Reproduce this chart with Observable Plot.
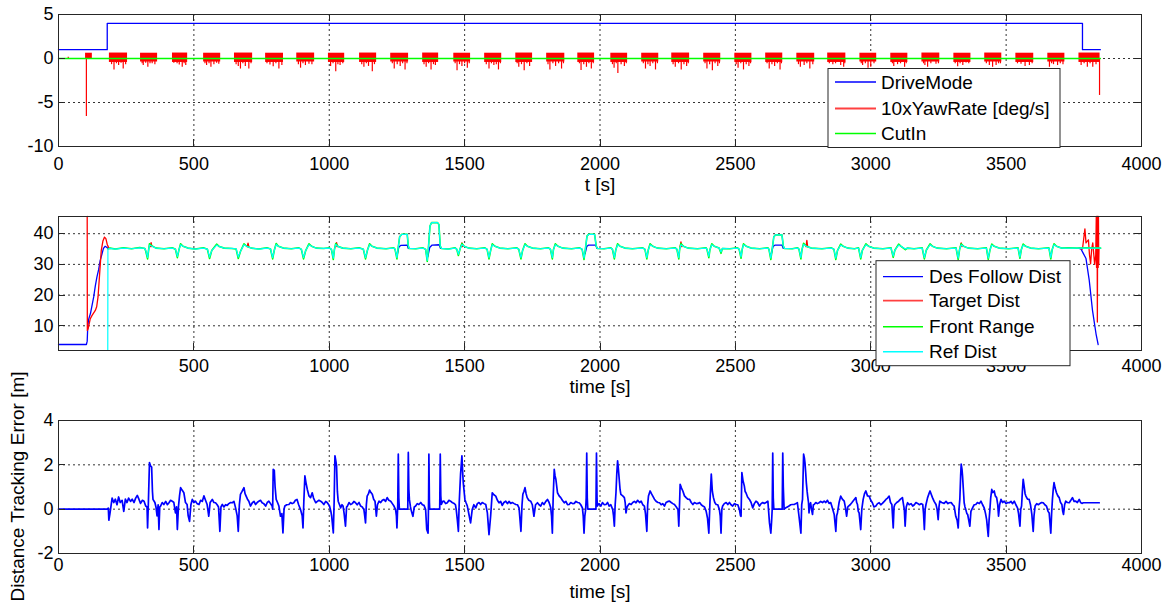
<!DOCTYPE html>
<html><head><meta charset="utf-8">
<script src="https://cdn.jsdelivr.net/npm/d3@7"></script>
<script src="https://cdn.jsdelivr.net/npm/@observablehq/plot@0.6"></script>
<style>
body{margin:0;background:#fff;}
#chart{position:relative;width:1174px;height:608px;overflow:hidden;background:#fff;}
#chart svg{position:absolute;left:0;overflow:visible;}
</style></head><body><div id="chart"></div>
<script>
// ---------------- DATA ----------------
const xTicks = [0,500,1000,1500,2000,2500,3000,3500,4000];
const xTicksMid = [500,1000,1500,2000,2500,3000,3500,4000];

// Panel 1
const driveMode = [[0,1],[180,1],[180,4],[3782,4],[3782,1],[3848,1]];
const cutIn = [[0,0],[3848,0]];
const yawStart = [100,188,303,421,536,650,765,880,997,1112,1227,1345,1460,1574,1689,1803,1918,2040,2154,2265,2383,2498,2612,2727,2841,2960,3074,3189,3307,3421,3536,3654,3769];
const yawEnd   = [125,255,366,477,599,717,831,946,1057,1175,1293,1404,1522,1637,1751,1870,1980,2102,2217,2331,2446,2561,2675,2793,2908,3022,3137,3255,3370,3484,3602,3717,3847];
const yawHigh  = [0.6,0.62,0.6,0.62,0.6,0.62,0.6,0.62,0.6,0.62,0.6,0.62,0.6,0.6,0.62,0.6,0.62,0.6,0.6,0.62,0.6,0.6,0.62,0.6,0.62,0.6,0.6,0.62,0.6,0.62,0.6,0.6,0.62];
const yawLow   = [-0.1,-0.45,-0.4,-0.45,-0.4,-0.45,-0.45,-0.4,-0.45,-0.45,-0.4,-0.45,-0.4,-0.45,-0.45,-0.4,-0.45,-0.45,-0.4,-0.45,-0.4,-0.45,-0.45,-0.4,-0.45,-0.4,-0.45,-0.4,-0.45,-0.4,-0.45,-0.4,-0.45];
const yawSpikes = [[36,0.15],[103,-6.6],
 [196,-0.7],[205,-1.3],[214,-0.6],[222,-0.8],[231,-0.55],[239,-1.2],[248,-0.7],
 [309,-0.6],[313,-0.8],[322,-0.55],[330,-1.0],[338,-0.6],[346,-0.6],[356,-0.7],
 [426,-0.55],[438,-0.6],[446,-0.75],[457,-1.0],[464,-0.6],[470,-0.8],
 [541,-0.6],[547,-0.8],[556,-0.6],[563,-1.0],[574,-0.7],[584,-0.55],[592,-0.65],
 [656,-0.7],[664,-0.9],[672,-1.2],[681,-0.6],[690,-0.9],[703,-1.2],[711,-0.6],
 [770,-0.6],[781,-0.75],[793,-0.95],[803,-0.6],[814,-1.2],[825,-0.8],
 [886,-0.7],[894,-1.1],[903,-0.6],[912,-0.8],[925,-0.65],[936,-0.7],
 [1005,-0.9],[1014,-0.6],[1024,-1.5],[1032,-0.7],[1040,-0.8],[1050,-0.6],
 [1120,-0.7],[1128,-1.0],[1137,-0.6],[1145,-0.9],[1159,-1.5],[1167,-0.7],
 [1233,-0.6],[1240,-1.2],[1251,-0.7],[1262,-0.9],[1271,-0.6],[1280,-1.3],[1287,-0.6],
 [1350,-0.7],[1358,-1.0],[1367,-0.6],[1376,-1.3],[1385,-0.7],[1392,-0.8],
 [1465,-0.6],[1472,-1.4],[1481,-0.7],[1490,-0.9],[1500,-0.6],[1510,-1.1],[1517,-0.6],
 [1580,-0.7],[1590,-1.2],[1599,-0.6],[1608,-0.8],[1617,-0.7],[1625,-1.3],[1632,-0.6],
 [1694,-0.6],[1700,-1.0],[1710,-0.7],[1720,-1.4],[1730,-0.6],[1740,-0.9],
 [1808,-0.7],[1815,-1.3],[1826,-0.6],[1836,-0.9],[1847,-0.6],[1858,-1.2],[1865,-0.6],
 [1924,-0.6],[1930,-1.35],[1940,-0.7],[1950,-1.0],[1959,-0.6],[1968,-1.2],[1975,-0.6],
 [2046,-0.7],[2052,-1.1],[2060,-0.6],[2066,-1.7],[2078,-0.7],[2090,-0.9],[2097,-0.6],
 [2160,-0.6],[2168,-1.2],[2177,-0.7],[2185,-0.9],[2195,-0.6],[2205,-1.3],[2212,-0.6],
 [2270,-0.7],[2278,-1.0],[2290,-0.6],[2300,-1.3],[2310,-0.7],[2320,-0.9],[2326,-0.6],
 [2388,-0.6],[2395,-1.2],[2405,-0.7],[2415,-1.4],[2425,-0.6],[2435,-0.9],[2441,-0.6],
 [2503,-0.7],[2510,-1.1],[2520,-0.6],[2530,-1.3],[2540,-0.7],[2550,-0.9],[2556,-0.6],
 [2617,-0.6],[2625,-1.2],[2635,-0.7],[2645,-0.9],[2655,-0.6],[2665,-1.3],[2670,-0.6],
 [2733,-0.7],[2740,-1.0],[2754,-0.8],[2764,-0.6],[2775,-1.2],[2786,-0.7],
 [2847,-0.6],[2860,-0.7],[2870,-0.6],[2889,-0.8],[2900,-1.0],[2904,-0.6],
 [2965,-0.6],[2970,-0.8],[2980,-0.6],[2990,-1.1],[3000,-1.0],[3012,-0.6],
 [3080,-0.6],[3085,-0.9],[3099,-0.7],[3110,-0.6],[3125,-1.0],[3131,-0.6],
 [3195,-0.6],[3200,-0.8],[3210,-1.0],[3222,-0.6],[3241,-0.65],[3250,-0.6],
 [3312,-0.6],[3321,-0.95],[3330,-0.6],[3340,-0.8],[3352,-0.5],[3362,-0.6],
 [3427,-0.6],[3438,-0.8],[3450,-1.0],[3463,-0.8],[3472,-0.6],[3479,-0.6],
 [3542,-0.6],[3555,-0.65],[3570,-0.9],[3586,-0.8],[3596,-0.6],
 [3660,-1.0],[3668,-0.6],[3675,-0.7],[3690,-0.8],[3700,-0.6],[3710,-0.7],
 [3777,-0.8],[3788,-0.6],[3800,-1.0],[3810,-0.6],[3820,-1.0],[3832,-0.7],[3845,-4.2]];

// Panel 2
const desFollow = [[0,3.9],[103,3.9],[106,5],[108,9.6],[111,12],[118,14],[130,19.4],[136,23],[142,25.9],[148,28.2],[154,31.3],[160,33.2],[166,35.2],[172,35.9],[178,35.6],[183,35.2],[183,NaN],
 [1252,33.5],[1257,35.6],[1264,36.2],[1288,36.3],[1292,35.2],[1292,NaN],
 [1364,32.5],[1371,35.5],[1380,36.3],[1406,36.4],[1411,35.2],[1411,NaN],
 [1945,33.5],[1951,35.8],[1958,36.3],[1984,36.3],[1989,35.2],[1989,NaN],
 [2633,33.5],[2639,35.8],[2647,36.3],[2672,36.3],[2677,35.2],[2677,NaN],
 [3768,35.2],[3776,35.1],[3785,33.6],[3795,31.9],[3807,24.8],[3819,15],[3832,7.4],[3840,3.9]];
const targetDist = [[106,45.6],[106.5,8.5],[110,9.2],[117,12.2],[124,13.4],[136,15],[141,16.2],[146,19.4],[152,27],[158,34.6],[164,37.6],[170,38.9],[175,38.4],[180,36.5],[186,35.3],[190,35.2],[190,NaN],
 [339,35.8],[342,37.1],[345,35.8],[345,NaN],[697,35.8],[700,36.9],[703,35.8],[703,NaN],
 [1024,35.8],[1027,37.1],[1030,35.8],[1030,NaN],[1487,35.8],[1490,37.0],[1493,35.8],[1493,NaN],
 [2296,35.8],[2299,37.3],[2302,35.8],[2302,NaN],[2761,35.8],[2764,37.8],[2767,35.8],[2767,NaN],
 [3331,35.8],[3334,37.0],[3337,35.8],[3337,NaN],
 [3770,35.3],[3782,35.0],[3791,41.6],[3795,37],[3799,37.5],[3804,38],[3808,33],[3812,30.2],[3816,35],[3820,37],[3824,33],[3827,30],[3831,33],
 [3833,45.6],[3834,29],[3836,45.6],[3837,11.2],[3838,45.6],[3840,29],[3841,45.6],[3842,30],[3843,35]];
const frontRange = [[183,35.0],[190,35.3],[210,35.0],[240,35.4],[270,35.1],[300,35.5],[319,35.2],
 [322,34.4],[329,31.8],[333,34.8],[336,36.7],[344,36.1],[360,35.3],[390,35.1],[420,35.4],
 [432,34.9],[439,32.2],[445,34.8],[451,36.7],[460,35.9],[478,35.3],[505,35.0],[535,35.4],
 [550,34.9],[558,31.9],[566,34.5],[584,36.6],[594,35.8],[612,35.3],[640,35.2],
 [656,35.0],[664,31.9],[672,34.2],[685,36.7],[695,35.9],[712,35.3],[740,35.0],[770,35.4],
 [783,35.0],[791,31.8],[797,34.6],[804,36.8],[812,35.9],[830,35.3],[860,35.1],[888,35.4],
 [897,34.9],[905,31.8],[913,34.5],[925,36.7],[935,35.9],[952,35.3],[980,35.2],[1000,35.4],
 [1008,34.9],[1015,31.6],[1019,34.8],[1024,36.8],[1033,35.8],[1050,35.3],[1080,35.1],[1110,35.4],
 [1126,34.9],[1134,31.8],[1141,34.6],[1149,36.7],[1158,35.9],[1176,35.3],[1210,35.1],[1238,35.4],
 [1243,34.9],[1250,31.8],[1254,35.0],[1260,39.0],[1268,39.8],[1288,39.8],[1292,36.0],[1295,35.2],[1320,35.1],[1345,35.4],
 [1356,34.9],[1362,31.0],[1366,35.0],[1372,42.5],[1378,43.6],[1400,43.6],[1405,43.0],[1410,36.0],[1414,35.2],[1440,35.0],[1465,35.4],
 [1471,34.9],[1477,32.9],[1483,35.0],[1490,36.8],[1498,35.9],[1515,35.3],[1545,35.1],[1575,35.4],
 [1583,34.9],[1590,31.8],[1596,34.5],[1602,36.7],[1612,35.9],[1630,35.3],[1660,35.1],[1693,35.4],
 [1700,34.9],[1708,31.8],[1714,34.5],[1723,36.7],[1732,35.9],[1750,35.3],[1780,35.1],[1810,35.4],
 [1817,34.9],[1824,31.8],[1828,34.8],[1835,36.7],[1845,35.9],[1862,35.3],[1895,35.1],[1925,35.4],
 [1934,34.9],[1941,31.6],[1946,35.0],[1952,39.2],[1958,39.8],[1980,39.8],[1986,36.0],[1990,35.2],[2015,35.1],[2040,35.4],
 [2046,34.9],[2053,31.8],[2058,34.6],[2065,36.7],[2074,35.9],[2092,35.3],[2120,35.1],[2158,35.4],
 [2166,34.9],[2173,31.8],[2178,34.6],[2185,36.7],[2195,35.9],[2212,35.3],[2245,35.1],[2278,35.4],
 [2284,34.9],[2291,31.8],[2294,34.8],[2299,36.8],[2308,35.9],[2325,35.3],[2360,35.1],[2392,35.4],
 [2395,34.9],[2402,32.2],[2406,34.8],[2413,36.7],[2422,35.9],[2440,35.3],[2447,33.6],[2452,35.2],[2480,35.1],[2508,35.4],
 [2514,34.9],[2521,32.0],[2525,34.8],[2530,36.7],[2540,35.9],[2558,35.3],[2590,35.1],[2620,35.4],
 [2624,34.9],[2631,31.6],[2636,35.0],[2642,39.0],[2648,39.6],[2672,39.6],[2677,36.0],[2681,35.2],[2710,35.1],[2730,35.4],
 [2735,34.9],[2742,31.8],[2746,34.8],[2752,36.9],[2762,35.9],[2780,35.3],[2820,35.1],[2855,35.4],
 [2864,34.9],[2871,31.6],[2877,34.5],[2889,36.6],[2898,35.9],[2915,35.3],[2940,35.1],[2955,35.4],
 [2956,34.9],[2963,31.8],[2969,34.6],[2982,36.7],[2992,35.9],[3010,35.3],[3045,35.1],[3075,35.4],
 [3076,34.9],[3083,32.3],[3089,34.6],[3103,36.6],[3112,35.9],[3128,34.8],[3135,35.3],[3160,35.1],[3190,35.4],
 [3191,34.9],[3198,31.8],[3205,34.6],[3219,36.7],[3228,35.9],[3245,35.3],[3280,35.1],[3315,35.4],
 [3316,34.9],[3323,31.6],[3328,34.8],[3334,36.7],[3343,35.9],[3360,35.3],[3395,35.1],[3427,35.4],
 [3428,34.9],[3434,31.6],[3440,34.6],[3447,36.6],[3456,35.9],[3474,35.3],[3510,35.1],[3544,35.4],
 [3545,34.9],[3551,32.0],[3556,34.8],[3563,36.6],[3572,35.9],[3590,35.3],[3620,35.1],[3658,35.4],
 [3659,34.9],[3665,31.8],[3670,34.8],[3677,36.7],[3686,35.9],[3704,35.3],[3730,35.4],[3760,35.3],[3800,35.4],[3849,35.3]];
const refDist = [[182,2],[182.5,35.0],[190,35.2],[210,35.0],[240,35.3],[270,35.1],[300,35.4],[319,35.2],
 [322,34.6],[329,32.3],[333,34.8],[336,36.3],[344,36.0],[360,35.3],[390,35.1],[420,35.3],
 [432,35.0],[439,32.6],[445,34.8],[451,36.4],[460,35.9],[478,35.3],[505,35.0],[535,35.3],
 [550,35.0],[558,32.4],[566,34.5],[584,36.3],[594,35.8],[612,35.3],[640,35.2],
 [656,35.1],[664,32.4],[672,34.2],[685,36.4],[695,35.9],[712,35.3],[740,35.0],[770,35.3],
 [783,35.1],[791,32.2],[797,34.6],[804,36.5],[812,35.9],[830,35.3],[860,35.1],[888,35.3],
 [897,35.0],[905,32.2],[913,34.5],[925,36.4],[935,35.9],[952,35.3],[980,35.2],[1000,35.3],
 [1008,35.0],[1015,32.0],[1019,34.8],[1024,36.5],[1033,35.8],[1050,35.3],[1080,35.1],[1110,35.3],
 [1126,35.0],[1134,32.2],[1141,34.6],[1149,36.4],[1158,35.9],[1176,35.3],[1210,35.1],[1238,35.3],
 [1243,35.0],[1250,32.2],[1254,35.0],[1260,39.0],[1268,39.8],[1288,39.8],[1292,36.0],[1295,35.2],[1320,35.1],[1345,35.3],
 [1356,35.0],[1362,31.3],[1366,35.0],[1372,42.5],[1378,43.6],[1400,43.6],[1405,43.0],[1410,36.0],[1414,35.2],[1440,35.0],[1465,35.3],
 [1471,35.0],[1477,33.3],[1483,35.0],[1490,36.5],[1498,35.9],[1515,35.3],[1545,35.1],[1575,35.3],
 [1583,35.0],[1590,32.2],[1596,34.5],[1602,36.4],[1612,35.9],[1630,35.3],[1660,35.1],[1693,35.3],
 [1700,35.0],[1708,32.2],[1714,34.5],[1723,36.4],[1732,35.9],[1750,35.3],[1780,35.1],[1810,35.3],
 [1817,35.0],[1824,32.2],[1828,34.8],[1835,36.4],[1845,35.9],[1862,35.3],[1895,35.1],[1925,35.3],
 [1934,35.0],[1941,32.0],[1946,35.0],[1952,39.2],[1958,39.8],[1980,39.8],[1986,36.0],[1990,35.2],[2015,35.1],[2040,35.3],
 [2046,35.0],[2053,32.2],[2058,34.6],[2065,36.4],[2074,35.9],[2092,35.3],[2120,35.1],[2158,35.3],
 [2166,35.0],[2173,32.2],[2178,34.6],[2185,36.4],[2195,35.9],[2212,35.3],[2245,35.1],[2278,35.3],
 [2284,35.0],[2291,32.2],[2294,34.8],[2299,36.4],[2308,35.9],[2325,35.3],[2360,35.1],[2392,35.3],
 [2395,35.0],[2402,32.6],[2406,34.8],[2413,36.4],[2422,35.9],[2440,35.3],[2447,34.0],[2452,35.2],[2480,35.1],[2508,35.3],
 [2514,35.0],[2521,32.4],[2525,34.8],[2530,36.4],[2540,35.9],[2558,35.3],[2590,35.1],[2620,35.3],
 [2624,35.0],[2631,32.0],[2636,35.0],[2642,39.0],[2648,39.6],[2672,39.6],[2677,36.0],[2681,35.2],[2710,35.1],[2730,35.3],
 [2735,35.0],[2742,32.2],[2746,34.8],[2752,36.5],[2762,35.9],[2780,35.3],[2820,35.1],[2855,35.3],
 [2864,35.0],[2871,32.0],[2877,34.5],[2889,36.3],[2898,35.9],[2915,35.3],[2940,35.1],[2955,35.3],
 [2956,35.0],[2963,32.2],[2969,34.6],[2982,36.4],[2992,35.9],[3010,35.3],[3045,35.1],[3075,35.3],
 [3076,35.0],[3083,32.7],[3089,34.6],[3103,36.3],[3112,35.9],[3128,35.0],[3135,35.3],[3160,35.1],[3190,35.3],
 [3191,35.0],[3198,32.2],[3205,34.6],[3219,36.4],[3228,35.9],[3245,35.3],[3280,35.1],[3315,35.3],
 [3316,35.0],[3323,32.0],[3328,34.8],[3334,36.4],[3343,35.9],[3360,35.3],[3395,35.1],[3427,35.3],
 [3428,35.0],[3434,32.0],[3440,34.6],[3447,36.3],[3456,35.9],[3474,35.3],[3510,35.1],[3544,35.3],
 [3545,35.0],[3551,32.4],[3556,34.8],[3563,36.3],[3572,35.9],[3590,35.3],[3620,35.1],[3658,35.3],
 [3659,35.0],[3665,32.2],[3670,34.8],[3677,36.4],[3686,35.9],[3704,35.3],[3730,35.3],[3760,35.3],[3800,35.3],[3849,35.3]];

// Panel 3
const trackErr = [[0,0],[180,0],[184,0.05],[186,-0.5],[190,-0.2],[198,0.5],[204,0.3],[210,0.45],[216,0.2],[222,0.55],[228,0.3],[235,0.4],[241,-0.1],[247,0.45],[253,0.3],[259,0.5],[266,0.35],[272,0.45],[279,0.3],[285,0.5],[291,0.62],[297,0.45],[303,0.26],[310,0.4],[316,0.36],[322,0.14],[327,0.1],[329,-0.85],[332,0.3],[336,2.1],[340,1.95],[344,1.9],[347,0.8],[349,0.44],[356,0.3],[360,0.1],[364,-0.3],[368,0.2],[371,-0.92],[374,0.1],[377,0.14],[383,0.3],[389,0.21],[396,0.35],[402,0.2],[408,0.29],[414,0.4],[420,0.36],[426,0.3],[432,-0.17],[436,0.1],[439,-0.92],[443,0.1],[447,0.6],[451,0.97],[457,0.85],[463,0.74],[469,0.3],[475,0.21],[479,-0.3],[484,-0.55],[489,0.2],[494,0.44],[500,0.3],[506,0.36],[512,0.25],[519,0.21],[525,0.4],[531,0.35],[537,0.6],[543,0.4],[549,0.21],[555,-0.32],[560,0.3],[568,0.44],[574,0.3],[580,0.29],[586,0.2],[591,0.1],[596,-1.0],[600,0.1],[605,0.21],[611,0.1],[617,0.2],[623,0.17],[629,0.25],[636,0.3],[642,0.29],[648,0.35],[654,0.06],[660,-0.3],[664,-1.0],[668,0.2],[672,0.67],[678,0.8],[685,0.97],[689,0.7],[693,0.59],[698,0.45],[703,0.36],[709,0.14],[716,0.29],[722,0.35],[728,0.21],[734,0.3],[740,0.36],[746,0.4],[752,0.29],[758,0.25],[765,0.14],[771,0.3],[777,0.36],[783,0.25],[789,0.14],[791,0.0],[793,1.8],[797,1.75],[800,1.0],[804,0.44],[809,0.3],[814,0.14],[820,-0.32],[825,-0.2],[829,-1.07],[833,0.0],[836,0.14],[843,0.2],[851,0.21],[857,0.3],[863,0.25],[869,0.29],[875,0.4],[881,0.44],[887,0.2],[894,-0.02],[900,-0.3],[903,-0.85],[906,0.3],[910,1.5],[914,1.2],[919,0.89],[925,0.6],[931,0.52],[937,0.74],[942,0.5],[950,0.29],[956,0.35],[962,0.4],[968,0.36],[974,0.3],[980,0.21],[987,0.35],[993,0.29],[998,0.2],[1001,0.14],[1006,-0.1],[1009,-0.32],[1015,-1.07],[1018,0.3],[1021,2.41],[1024,2.2],[1027,1.95],[1030,0.8],[1033,0.36],[1038,0.2],[1042,0.06],[1047,0.2],[1051,0.14],[1055,-0.2],[1060,-0.77],[1064,0.1],[1067,0.14],[1073,0.3],[1079,0.21],[1085,0.25],[1091,0.35],[1097,0.29],[1103,0.2],[1110,0.3],[1116,0.14],[1122,0.1],[1128,-0.02],[1131,-0.3],[1134,-0.62],[1137,0.2],[1140,0.59],[1145,0.7],[1149,0.86],[1154,0.75],[1159,0.67],[1164,0.45],[1169,0.36],[1174,-0.32],[1178,0.2],[1184,0.36],[1190,0.3],[1196,0.4],[1202,0.44],[1208,0.35],[1214,0.52],[1220,0.4],[1227,0.36],[1233,0.25],[1239,0.14],[1245,-0.02],[1248,-0.3],[1250,-0.85],[1253,0.2],[1255,2.48],[1257,0.5],[1259,0],[1290,0],[1292,2.56],[1294,0.9],[1296,0.44],[1300,0.1],[1302,-0.02],[1306,-0.2],[1309,-0.32],[1314,0.1],[1319,0.14],[1325,0.25],[1331,0.21],[1338,0.3],[1344,0.2],[1350,0.17],[1356,-0.02],[1360,-0.92],[1365,-1.08],[1367,0.5],[1368,2.48],[1370,0.3],[1371,0],[1408,0],[1410,2.48],[1412,0.6],[1414,0.21],[1419,0.35],[1424,0.36],[1430,0.25],[1436,0.29],[1442,0.4],[1448,0.36],[1454,0.3],[1461,0.26],[1466,0.2],[1469,-0.02],[1473,-0.47],[1477,-1.0],[1480,0.29],[1485,1.58],[1490,2.41],[1493,1.6],[1495,1.2],[1501,0.44],[1505,0.3],[1510,0.14],[1516,-0.24],[1522,-0.62],[1528,-0.02],[1534,0.2],[1541,0.06],[1547,0.25],[1553,0.3],[1559,0.21],[1565,0.3],[1572,0.25],[1578,0.21],[1584,-0.17],[1590,-1.15],[1596,-0.32],[1602,0.74],[1608,0.65],[1615,0.59],[1621,0.4],[1627,0.29],[1633,0.35],[1639,0.17],[1645,0.3],[1652,0.36],[1658,0.25],[1664,0.35],[1670,0.26],[1676,0.3],[1683,0.25],[1689,0.21],[1695,0.2],[1701,0.06],[1708,-1.0],[1712,0.2],[1715,0.67],[1719,0.8],[1723,0.97],[1727,0.7],[1731,0.52],[1737,0.4],[1744,0.36],[1750,0.2],[1756,-0.32],[1762,0.2],[1769,0.29],[1775,0.2],[1781,0.14],[1787,0.3],[1793,0.21],[1800,0.35],[1806,0.44],[1812,0.3],[1818,0.06],[1821,-0.3],[1824,-1.08],[1827,0.5],[1831,1.8],[1834,1.5],[1837,1.35],[1843,0.74],[1849,0.6],[1855,0.52],[1861,0.4],[1868,0.29],[1874,0.35],[1880,0.2],[1886,0.21],[1892,0.3],[1899,0.25],[1905,0.26],[1911,0.35],[1917,0.3],[1923,0.29],[1929,0.2],[1935,0.06],[1938,-0.3],[1941,-1.08],[1944,-0.3],[1947,-0.02],[1949,0.5],[1951,2.53],[1953,0.5],[1955,0],[1985,0],[1987,2.53],[1989,0.5],[1990,0.14],[1996,0.25],[2003,0.14],[2009,0.3],[2016,0.2],[2022,0.21],[2028,0.3],[2034,0.14],[2040,0.2],[2047,-0.02],[2050,-0.3],[2053,-0.77],[2056,0.2],[2059,0.74],[2062,1.6],[2065,2.18],[2068,1.8],[2071,1.35],[2074,0.9],[2077,0.67],[2084,0.6],[2090,0.52],[2093,0.3],[2096,-0.17],[2100,0.1],[2102,0.14],[2108,0.25],[2115,0.21],[2121,0.3],[2127,0.35],[2133,0.29],[2139,0.4],[2146,0.3],[2152,0.36],[2158,0.2],[2164,0.14],[2168,-0.2],[2173,-1.0],[2176,0.2],[2179,0.59],[2185,0.82],[2190,0.7],[2195,0.59],[2201,0.45],[2207,0.36],[2214,0.3],[2220,0.29],[2226,0.2],[2232,0.25],[2238,0.14],[2244,0.3],[2251,0.35],[2257,0.36],[2263,0.3],[2269,0.25],[2275,0.21],[2282,0.1],[2288,-0.02],[2291,-0.77],[2294,0.3],[2296,1.12],[2301,0.95],[2306,0.82],[2312,0.6],[2318,0.52],[2324,0.45],[2331,0.44],[2337,0.3],[2343,0.21],[2349,0.3],[2356,0.25],[2362,0.26],[2368,0.3],[2374,0.2],[2380,0.14],[2386,0.1],[2392,-0.09],[2397,-0.4],[2402,-1.08],[2406,0.29],[2411,1.58],[2415,0.8],[2419,0.52],[2424,0.3],[2429,0.21],[2435,0.2],[2441,-0.02],[2444,-0.3],[2447,-1.08],[2450,0.0],[2453,0.14],[2459,0.25],[2466,0.3],[2472,0.21],[2478,0.3],[2484,0.2],[2490,0.14],[2497,0.25],[2503,0.21],[2509,0.2],[2515,-0.02],[2519,-0.3],[2521,-0.32],[2524,1.65],[2528,1.3],[2533,1.05],[2536,0.8],[2539,0.74],[2545,0.55],[2552,0.44],[2558,0.3],[2564,0.06],[2570,0.25],[2576,0.36],[2582,0.3],[2589,0.14],[2595,0.25],[2601,0.3],[2607,0.26],[2613,0.3],[2620,0.36],[2626,-0.62],[2631,-1.08],[2634,-0.5],[2636,0],[2638,2.53],[2640,0.5],[2642,0],[2673,0],[2675,2.53],[2677,1.0],[2680,0.0],[2686,0.06],[2692,0.1],[2698,0.14],[2704,0.2],[2710,0.21],[2717,0.21],[2723,0.25],[2729,0.29],[2735,-0.32],[2742,-1.08],[2745,0.2],[2748,0.44],[2752,2.48],[2755,2.3],[2757,2.1],[2760,1.6],[2762,1.2],[2765,0.8],[2767,0.59],[2770,0.3],[2772,-0.17],[2775,0.2],[2778,0.29],[2781,0.0],[2785,-0.24],[2788,0.2],[2791,0.21],[2797,0.3],[2803,0.25],[2809,0.29],[2815,0.35],[2822,0.3],[2828,0.36],[2834,0.3],[2840,0.4],[2846,0.26],[2852,0.3],[2858,0.06],[2865,-0.24],[2871,-1.0],[2874,-0.3],[2877,-0.17],[2883,0.3],[2889,0.59],[2895,0.45],[2902,0.36],[2906,0.1],[2911,-0.32],[2915,0.1],[2918,0.14],[2924,0.2],[2930,0.29],[2937,0.4],[2945,0.52],[2948,0.3],[2951,0.21],[2954,-0.1],[2957,-0.17],[2963,-0.92],[2967,0.0],[2972,0.44],[2977,0.7],[2982,0.82],[2988,0.6],[2994,0.59],[3000,0.4],[3006,0.29],[3012,0.1],[3019,0.14],[3025,0.25],[3031,0.29],[3037,0.2],[3043,0.26],[3050,0.35],[3056,0.44],[3062,0.5],[3068,0.59],[3073,0.3],[3078,0.21],[3083,-0.85],[3086,0.1],[3089,0.21],[3096,0.3],[3103,0.36],[3110,0.45],[3117,0.52],[3121,0.2],[3124,-0.02],[3127,-0.77],[3131,0.1],[3136,0.29],[3142,0.2],[3149,0.25],[3155,0.14],[3161,0.2],[3167,0.3],[3173,0.26],[3180,0.2],[3186,0.25],[3192,0.21],[3195,-0.2],[3198,-0.92],[3201,0.0],[3204,0.21],[3210,0.52],[3215,0.7],[3219,0.82],[3224,0.65],[3228,0.52],[3234,0.35],[3241,0.21],[3245,0.0],[3249,-0.47],[3252,0.1],[3255,0.36],[3262,0.3],[3271,0.26],[3278,0.35],[3285,0.25],[3290,0.29],[3297,0.3],[3303,0.2],[3308,0.14],[3314,-0.32],[3319,-0.5],[3323,-0.85],[3326,0.0],[3329,0.44],[3332,1.5],[3334,2.03],[3337,1.8],[3339,1.5],[3342,0.9],[3345,0.29],[3348,0.1],[3351,-0.02],[3355,-0.2],[3358,-0.24],[3362,-0.5],[3366,-0.77],[3370,-0.1],[3376,0.06],[3382,0.2],[3388,0.21],[3394,0.3],[3401,0.25],[3407,0.36],[3413,0.2],[3419,0.06],[3424,-0.2],[3428,-0.47],[3434,-1.23],[3437,-0.5],[3440,-0.02],[3443,0.5],[3447,0.89],[3451,0.75],[3456,0.82],[3460,0.6],[3465,0.52],[3469,0.2],[3472,-0.32],[3476,0.2],[3481,0.44],[3487,0.3],[3493,0.36],[3500,0.25],[3506,0.3],[3512,0.29],[3518,0.35],[3524,0.25],[3530,0.36],[3536,0.2],[3542,0.06],[3546,-0.2],[3551,-0.77],[3554,0.0],[3557,0.14],[3560,0.8],[3563,1.35],[3567,1.0],[3570,0.7],[3573,0.59],[3579,0.45],[3585,0.44],[3590,0.2],[3595,-0.24],[3600,-1.0],[3603,-0.3],[3607,0.14],[3613,0.25],[3619,0.2],[3625,0.26],[3631,0.3],[3637,0.29],[3643,0.2],[3649,0.14],[3655,-0.1],[3659,-0.17],[3665,-1.08],[3668,-0.2],[3671,0.44],[3674,0.9],[3677,1.2],[3681,0.95],[3686,0.74],[3691,0.6],[3696,0.52],[3701,0.3],[3706,0.21],[3709,-0.1],[3712,-0.24],[3716,0.2],[3720,0.36],[3726,0.3],[3733,0.29],[3739,0.4],[3745,0.52],[3751,0.35],[3757,0.36],[3763,0.3],[3770,0.44],[3775,0.3],[3780,0.26],[3785,0.29],[3844,0.29]];

// ---------------- RENDER ----------------
const FONT = '"Liberation Sans", Arial, Helvetica, sans-serif';
const W = 1174, ML = 58, MR = 33;
const BLUE = "#0000ff", RED = "#ff0000", GREEN = "#00ff00", CYAN = "#00ffff", BOX = "#262626";
const chart = document.getElementById("chart");
const X = d => d[0], Y = d => d[1];
const yaw = yawStart.map((s, i) => ({s, e: yawEnd[i], hi: yawHigh[i], lo: yawLow[i]}));

function panel(cfg) {
  const {top, height, mt, mb, ydomain, yticks, ygrid, xlabels, tickPad, marks} = cfg;
  const svg = Plot.plot({
    width: W, height, marginTop: mt, marginBottom: mb, marginLeft: ML, marginRight: MR,
    style: {fontFamily: FONT, fontSize: "18px", color: "#000", background: "transparent", overflow: "visible"},
    x: {domain: [0, 4000], ticks: xlabels, tickSize: 0, tickPadding: tickPad, tickFormat: d => String(d), label: null},
    y: {domain: ydomain, ticks: yticks, tickSize: 0, tickPadding: 5, tickFormat: d => String(d), label: null},
    marks: [
      Plot.ruleX([500,1000,1500,2000,2500,3000,3500], {stroke: "#000", strokeOpacity: 0.8, strokeDasharray: "2,3"}),
      Plot.ruleY(ygrid, {stroke: "#000", strokeOpacity: 0.8, strokeDasharray: "2,3"}),
      ...marks,
      Plot.frame({stroke: BOX, strokeWidth: 1})
    ]
  });
  svg.style.top = top + "px";
  chart.appendChild(svg);
  const xs = d3.scaleLinear([0, 4000], [ML, W - MR]);
  const ys = d3.scaleLinear(ydomain, [height - mb, mt]);
  const g = d3.select(svg).append("g").attr("stroke", BOX).attr("stroke-width", 1);
  const T = 7;
  for (const t of xTicks) {
    const x = Math.round(xs(t)) + 0.5;
    g.append("line").attr("x1", x).attr("x2", x).attr("y1", height - mb).attr("y2", height - mb - T);
    g.append("line").attr("x1", x).attr("x2", x).attr("y1", mt).attr("y2", mt + T);
  }
  for (const v of yticks) {
    const y = Math.round(ys(v)) + 0.5;
    g.append("line").attr("x1", ML).attr("x2", ML + T).attr("y1", y).attr("y2", y);
    g.append("line").attr("x1", W - MR).attr("x2", W - MR - T).attr("y1", y).attr("y2", y);
  }
  return d3.select(svg);
}

function legend(sel, x, y, w, h, rows, lx1, lx2, tx) {
  const g = sel.append("g");
  g.append("rect").attr("x", x).attr("y", y).attr("width", w).attr("height", h)
    .attr("fill", "#fff").attr("stroke", BOX).attr("stroke-width", 1);
  for (const r of rows) {
    g.append("line").attr("x1", lx1).attr("x2", lx2).attr("y1", r.y).attr("y2", r.y)
      .attr("stroke", r.c).attr("stroke-width", r.w || 1.3).attr("stroke-opacity", r.o || 1);
    g.append("text").attr("x", tx).attr("y", r.y).attr("dy", "0.35em").attr("text-anchor", "start")
      .attr("font-family", FONT).attr("font-size", "19px").attr("fill", "#000").text(r.t);
  }
}
function label(sel, x, y, text, rotate) {
  const t = sel.append("text").attr("font-family", FONT).attr("font-size", "19px").attr("fill", "#000")
    .attr("text-anchor", "middle").attr("dy", "0.35em").text(text);
  t.attr("transform", `translate(${x},${y})` + (rotate ? ` rotate(${rotate})` : ""));
}

// Panel 1
const p1 = panel({
  top: 0, height: 200, mt: 14, mb: 54, ydomain: [-10, 5], yticks: [-10, -5, 0, 5], ygrid: [-5, 0],
  xlabels: xTicks, tickPad: 11,
  marks: [
    Plot.line(driveMode, {x: X, y: Y, stroke: BLUE, strokeWidth: 1.3}),
    Plot.rect(yaw, {x1: "s", x2: "e", y1: "lo", y2: "hi", fill: RED}),
    Plot.ruleX(yawSpikes, {x: X, y1: 0, y2: Y, stroke: RED, strokeWidth: 1.2}),
    Plot.line(cutIn, {x: X, y: Y, stroke: GREEN, strokeWidth: 1.4})
  ]
});
label(p1, 600, 184, "t [s]");
legend(p1, 828, 68.5, 232, 79, [
  {y: 82, c: BLUE, t: "DriveMode"},
  {y: 108.5, c: RED, t: "10xYawRate [deg/s]", w: 1.8, o: 0.75},
  {y: 133.5, c: GREEN, t: "CutIn", w: 1.5}
], 835, 876, 881);

// Panel 2
const p2 = panel({
  top: 200, height: 200, mt: 16, mb: 50, ydomain: [1.95, 45.6], yticks: [10, 20, 30, 40], ygrid: [10, 20, 30, 40],
  xlabels: xTicksMid, tickPad: 9,
  marks: [
    Plot.line(desFollow, {x: X, y: Y, stroke: BLUE, strokeWidth: 1.3}),
    Plot.line(targetDist, {x: X, y: Y, stroke: RED, strokeWidth: 1.3}),
    Plot.line(frontRange, {x: X, y: Y, stroke: GREEN, strokeWidth: 1.6}),
    Plot.line(refDist, {x: X, y: Y, stroke: CYAN, strokeWidth: 1.2})
  ]
});
label(p2, 600, 186, "time [s]");
legend(p2, 876, 60.7, 194, 105, [
  {y: 76.7, c: BLUE, t: "Des Follow Dist"},
  {y: 100.7, c: RED, t: "Target Dist", w: 1.8, o: 0.75},
  {y: 126.7, c: GREEN, t: "Front Range", w: 1.5},
  {y: 151.7, c: CYAN, t: "Ref Dist", w: 1.5}
], 883, 923, 929);

// Panel 3
const p3 = panel({
  top: 400, height: 208, mt: 20, mb: 55, ydomain: [-2, 4], yticks: [-2, 0, 2, 4], ygrid: [0, 2],
  xlabels: xTicks, tickPad: 5,
  marks: [
    Plot.line(trackErr, {x: X, y: Y, stroke: BLUE, strokeWidth: 1.7})
  ]
});
label(p3, 600, 191, "time [s]");
label(p3, 17, 86.5, "Distance Tracking Error [m]", -90);
</script></body></html>
